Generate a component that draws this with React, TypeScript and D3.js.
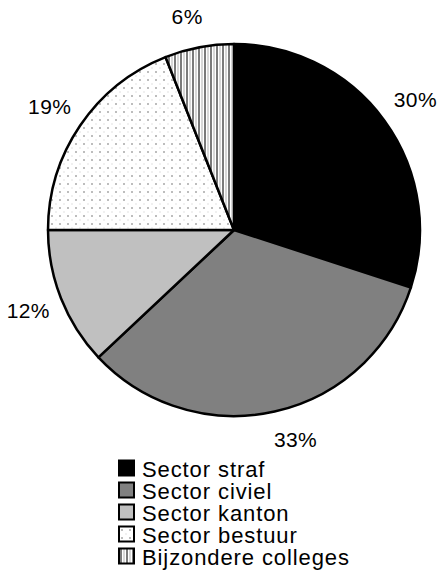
import React from "react";
import * as d3 from "d3";

const categories = ["Sector straf", "Sector civiel", "Sector kanton", "Sector bestuur", "Bijzondere colleges"];
const values = [30, 33, 12, 19, 6];
const labels = ["30%", "33%", "12%", "19%", "6%"];
const fills = ["#000000", "#808080", "#c0c0c0", "url(#dots)", "url(#stripes)"];
const labelNudgeX = [5, 14, -3, -4, -6];
const labelNudgeY = [-2, -3, 0, -1, 1];

export default function App() {
  const width = 442, height = 587;
  const cx = 234, cy = 230, r = 186;
  const pie = d3.pie<number>().sort(null).value((d) => d)(values);
  const arc = d3.arc<d3.PieArcDatum<number>>().innerRadius(0).outerRadius(r);
  const labelArc = d3.arc<d3.PieArcDatum<number>>().innerRadius(218).outerRadius(218);
  const legendY = d3.scaleBand<number>().domain(d3.range(categories.length)).range([457, 567]);
  const font = "'Liberation Sans', Arial, sans-serif";
  return (
    <svg width={width} height={height} style={{ position: "absolute", left: 0, top: 0, background: "#fff" }}>
      <defs>
        <pattern id="dots" width="8" height="8" patternUnits="userSpaceOnUse">
          <rect width="8" height="8" fill="#fff" />
          <rect x="1" y="1" width="2" height="2" fill="#bdbdbd" />
          <rect x="5" y="5" width="2" height="2" fill="#f0f0f0" />
        </pattern>
        <pattern id="stripes" width="6" height="6" patternUnits="userSpaceOnUse">
          <rect width="6" height="6" fill="#fff" />
          <rect x="0" y="0" width="2" height="6" fill="#7a7a7a" />
          <rect x="3.5" y="0" width="1" height="6" fill="#b0b0b0" />
        </pattern>
      </defs>
      <g transform={`translate(${cx},${cy})`}>
        {pie.map((d, i) => (
          <path key={i} d={arc(d) || ""} fill={fills[i]} stroke="#000" strokeWidth={2.5} strokeLinejoin="round" />
        ))}
        {pie.map((d, i) => {
          const [x, y] = labelArc.centroid(d);
          return (
            <text key={i} x={x + labelNudgeX[i]} y={y + labelNudgeY[i]} textAnchor="middle" dominantBaseline="central" fontFamily={font} fontSize={21} letterSpacing={0.4} fill="#000">
              {labels[i]}
            </text>
          );
        })}
      </g>
      <g>
        {categories.map((c, i) => {
          const y = (legendY(i) || 0) + legendY.bandwidth() / 2;
          return (
            <g key={i}>
              <rect x={119} y={y - 7.5} width={15} height={15} fill={fills[i]} stroke="#000" strokeWidth={2} />
              <text x={142} y={y + 1} dominantBaseline="central" fontFamily={font} fontSize={22} letterSpacing={0.9} fill="#000">
                {c}
              </text>
            </g>
          );
        })}
      </g>
    </svg>
  );
}
